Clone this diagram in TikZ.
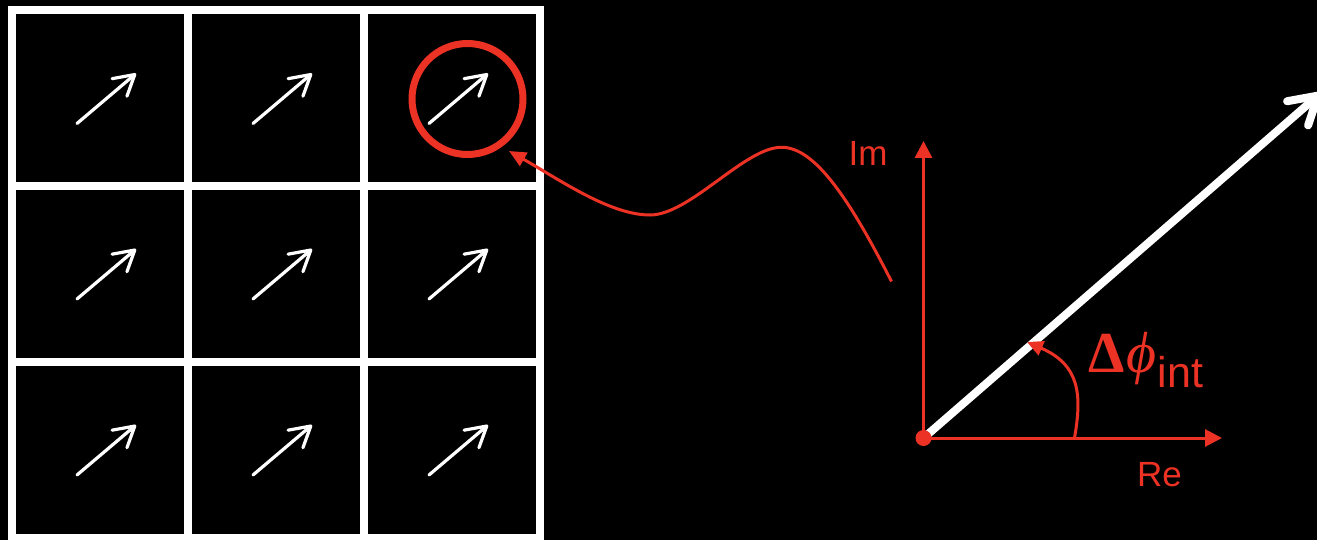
\documentclass[tikz,border=0pt]{standalone}
\usepackage{fontspec}
\setmainfont{Liberation Serif}
\setsansfont{Liberation Sans}
\usetikzlibrary{arrows.meta}
\definecolor{myred}{RGB}{236,50,36}
\begin{document}
\begin{tikzpicture}[x=1pt,y=-1pt,
  cell/.style={draw=white,line width=8pt,minimum size=176pt,inner sep=0pt,shape=rectangle},
  smallarr/.style={draw=white,line width=3.2pt,line cap=round,-{Straight Barb[length=20pt,width=23pt,round]}},
  redline/.style={draw=myred,line width=3pt},
  lbl/.style={text=myred,inner sep=0pt,font=\sffamily\fontsize{35}{38}\selectfont}
]
\useasboundingbox (0,0) rectangle (1317,540);
\fill[black] (0,0) rectangle (1317,540);

% grid cells
\foreach \r/\y in {1/98.5,2/274,3/450}{
  \foreach \c/\x in {1/100,2/276,3/452}{
    \node[cell] (c\r\c) at (\x,\y) {};
    \draw[smallarr] ([shift={(-23,25)}]c\r\c.center) -- ([shift={(36,-25)}]c\r\c.center);
  }
}

% highlight circle
\node[circle,draw=myred,line width=7pt,minimum size=111pt,inner sep=0pt] (sel) at (467.5,99) {};

% curved connector
\coordinate (cstart) at (891.5,281.5);
\coordinate (peak) at (781.5,147.3);
\coordinate (valley) at (650,215);
\coordinate (ctip) at (509,151);
\draw[redline,-{Triangle[length=17pt,width=15pt]}] (cstart)
  .. controls (850,200) and (815,147) .. (peak)
  .. controls (745,147) and (690,215) .. (valley)
  .. controls (610,215) and (560,180) .. (ctip);

% phasor diagram
\coordinate (origin) at (923.5,438);
\coordinate (imtip) at (923.5,141);
\coordinate (retip) at (1222,438);
\coordinate (vtip) at (1321,93);
\draw[white,line width=8pt,line cap=round,-{Straight Barb[length=27pt,width=32pt,round]}] (origin) -- (vtip);
\draw[redline,-{Triangle[length=17pt,width=17pt]}] (origin) -- (imtip);
\draw[redline,-{Triangle[length=17pt,width=17pt]}] (origin) -- (retip);
\node[circle,fill=myred,minimum size=16pt,inner sep=0pt] (O) at (origin) {};
\coordinate (arcstart) at (1074.5,438);
\coordinate (arcend) at (1027,342);
\draw[redline,-{Triangle[length=16pt,width=15pt]}] (arcstart) .. controls (1082,395) and (1080,365) .. (arcend);

\node[lbl] (im) at (868,153) {Im};
\node[lbl] (re) at (1159.5,474.5) {Re};
\node[anchor=base west,inner sep=0pt,text=myred] (dphi) at (1088,372)
  {\fontsize{58}{60}\selectfont\textbf{Δ}\kern2pt{\itshape ϕ}\kern1pt\raisebox{-15pt}{\sffamily\fontsize{43}{45}\selectfont int}};
\end{tikzpicture}
\end{document}
